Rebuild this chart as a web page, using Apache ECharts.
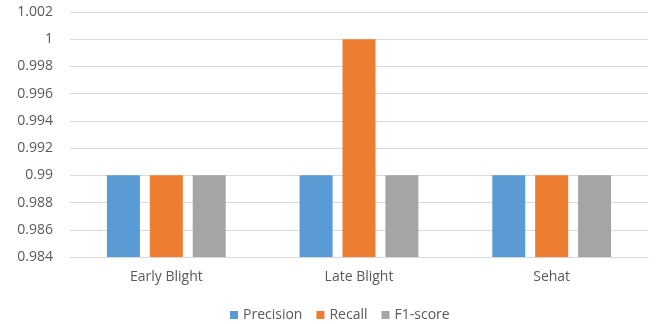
<!DOCTYPE html>
<html><head><meta charset="utf-8">
<script src="https://cdn.jsdelivr.net/npm/echarts@6/dist/echarts.min.js"></script>
<style>html,body{margin:0;padding:0;background:#fff}#c{width:659px;height:324px}</style>
</head><body><div id="c"></div>
<script>
const categories = ['Early Blight', 'Late Blight', 'Sehat'];
const precision = [0.99, 0.99, 0.99];
const recall = [0.99, 1, 0.99];
const f1score = [0.99, 0.99, 0.99];
const chart = echarts.init(document.getElementById('c'));
const font = '"Open Sans", Lato, sans-serif';
chart.setOption({
  animation: false,
  textStyle: {fontFamily: font},
  grid: {left: 70, right: 11, top: 12, bottom: 67},
  legend: {
    left: 225, top: 303, itemWidth: 8, itemHeight: 8, itemGap: 14,
    icon: 'rect',
    textStyle: {color: '#595959', fontSize: 14, fontFamily: font},
    data: ['Precision', 'Recall', 'F1-score']
  },
  xAxis: {
    type: 'category', data: categories,
    axisLine: {lineStyle: {color: '#D9D9D9'}},
    axisTick: {show: false},
    axisLabel: {color: '#595959', fontSize: 14, margin: 13, fontFamily: font}
  },
  yAxis: {
    type: 'value', min: 0.984, max: 1.002, interval: 0.002,
    axisLabel: {color: '#595959', fontSize: 14, margin: 17, fontFamily: font,
      formatter: v => String(parseFloat(v.toFixed(3)))},
    splitLine: {lineStyle: {color: '#D9D9D9'}},
    axisLine: {show: false}, axisTick: {show: false}
  },
  series: [
    {name: 'Precision', type: 'bar', data: precision, barWidth: 33, barGap: '30%', itemStyle: {color: '#5B9BD5'}},
    {name: 'Recall', type: 'bar', data: recall, barWidth: 33, barGap: '30%', itemStyle: {color: '#ED7D31'}},
    {name: 'F1-score', type: 'bar', data: f1score, barWidth: 33, barGap: '30%', itemStyle: {color: '#A5A5A5'}}
  ]
});
</script></body></html>
